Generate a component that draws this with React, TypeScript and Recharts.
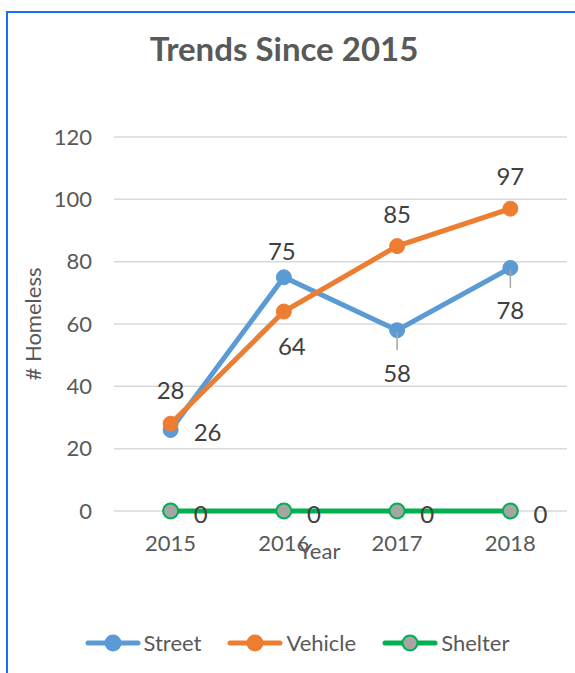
import React from 'react';
import { LineChart, Line, XAxis, YAxis, CartesianGrid, LabelList } from 'recharts';

const years = ['2015', '2016', '2017', '2018'];
const streetValues = [26, 75, 58, 78];
const vehicleValues = [28, 64, 85, 97];
const shelterValues = [0, 0, 0, 0];
const yTicks = [0, 20, 40, 60, 80, 100, 120];

const titleText = 'Trends Since 2015';
const xTitle = 'Year';
const yTitle = '# Homeless';

const FONT = 'Lato, "Open Sans", sans-serif';
const AXIS_COLOR = '#595959';
const LABEL_COLOR = '#404040';

// label placement per point: [dx, dy, leader, anchor]
const streetLabelPlacement: [number, number, boolean, string][] = [
  [23, 2, false, 'start'],
  [-2, -27, false, 'middle'],
  [0, 42, true, 'middle'],
  [0, 42, true, 'middle'],
];
const vehicleLabelPlacement: [number, number, boolean, string][] = [
  [0, -34, false, 'middle'],
  [8, 34, false, 'middle'],
  [0, -33, false, 'middle'],
  [0, -33, false, 'middle'],
];
const shelterLabelPlacement: [number, number, boolean, string][] = [
  [23, 2, false, 'start'],
  [23, 2, false, 'start'],
  [23, 2, false, 'start'],
  [23, 2, false, 'start'],
];

const series = [
  { key: 'street', name: 'Street', color: '#5B9BD5', dotFill: '#5B9BD5', placement: streetLabelPlacement },
  { key: 'vehicle', name: 'Vehicle', color: '#ED7D31', dotFill: '#ED7D31', placement: vehicleLabelPlacement },
  { key: 'shelter', name: 'Shelter', color: '#00B050', dotFill: '#A5A5A5', placement: shelterLabelPlacement },
];

const data = years.map((y, i) => ({
  year: y,
  street: streetValues[i],
  vehicle: vehicleValues[i],
  shelter: shelterValues[i],
}));

const makeLabel = (placement: [number, number, boolean, string][]) => (props: any) => {
  const vb = props.viewBox || {};
  const x = props.x ?? vb.x;
  const y = props.y ?? vb.y;
  const idx = props.index ?? 0;
  const p = placement[idx] || [0, -30, false, 'middle'];
  const [dx, dy, leader, anchor] = p;
  return (
    <g>
      {leader && (
        <line x1={x} y1={y + 2} x2={x} y2={y + 20} stroke="#A6A6A6" strokeWidth={1.5} />
      )}
      <text
        x={x + dx}
        y={y + dy}
        textAnchor={anchor as any}
        dominantBaseline="central"
        fontSize={24}
        fontFamily={FONT}
        fill={LABEL_COLOR}
      >
        {props.value}
      </text>
    </g>
  );
};

const LegendIcon = ({ color, dotFill }: { color: string; dotFill: string }) => (
  <svg width={56} height={20} style={{ display: 'block' }}>
    <line x1={3} y1={10} x2={53} y2={10} stroke={color} strokeWidth={5} strokeLinecap="round" />
    <circle cx={28} cy={10} r={7.5} fill={dotFill} stroke={color} strokeWidth={2} />
  </svg>
);

export default function App() {
  return (
    <div style={{ position: 'absolute', left: 0, top: 0, width: 575, height: 673, background: '#fff', overflow: 'hidden' }}>
      <svg width={575} height={673} style={{ position: 'absolute', left: 0, top: 0 }}>
        <line x1={7} y1={12} x2={575} y2={12} stroke="#1A6DF5" strokeWidth={2} />
        <line x1={7} y1={11} x2={7} y2={673} stroke="#1A6DF5" strokeWidth={2} />
        <text x={284} y={61} textAnchor="middle" fontSize={33} fontWeight="bold" fontFamily={FONT} fill={AXIS_COLOR}>
          {titleText}
        </text>
      </svg>
      <div style={{ position: 'absolute', left: 0, top: 0 }}>
        <LineChart width={575} height={673} data={data} margin={{ top: 137, right: 8, bottom: 0, left: 0 }}>
          <CartesianGrid vertical={false} stroke="#D9D9D9" strokeWidth={1.5} />
          <XAxis
            dataKey="year"
            scale="band"
            height={162}
            axisLine={false}
            tickLine={false}
            tickMargin={18}
            tick={{ fontSize: 22, fontFamily: FONT, fill: AXIS_COLOR }}
            label={{
              content: (p: any) => {
                const vb = p.viewBox;
                return (
                  <text x={vb.x + vb.width / 2 - 21} y={vb.y + 48} textAnchor="middle" fontSize={22} fontFamily={FONT} fill={AXIS_COLOR}>
                    {xTitle}
                  </text>
                );
              },
            }}
          />
          <YAxis
            width={114}
            domain={[0, 120]}
            ticks={yTicks}
            axisLine={false}
            tickLine={false}
            tickMargin={16}
            tick={{ fontSize: 22, fontFamily: FONT, fill: AXIS_COLOR }}
            label={{
              content: (p: any) => {
                const vb = p.viewBox;
                const cx = 41;
                const cy = vb.y + vb.height / 2;
                return (
                  <text x={cx} y={cy} transform={`rotate(-90, ${cx}, ${cy})`} textAnchor="middle" fontSize={22} fontFamily={FONT} fill={AXIS_COLOR}>
                    {yTitle}
                  </text>
                );
              },
            }}
          />
          {series.map((s) => (
            <Line
              key={s.key}
              dataKey={s.key}
              name={s.name}
              stroke={s.color}
              strokeWidth={5}
              isAnimationActive={false}
              dot={{ r: 7.5, fill: s.dotFill, stroke: s.color, strokeWidth: s.key === 'shelter' ? 2 : 1 }}
              activeDot={false}
            >
              <LabelList dataKey={s.key} content={makeLabel(s.placement)} />
            </Line>
          ))}
        </LineChart>
      </div>
      <div
        style={{
          position: 'absolute',
          left: 0,
          top: 633,
          width: 594,
          display: 'flex',
          justifyContent: 'center',
          alignItems: 'center',
          gap: 26,
          fontFamily: FONT,
          fontSize: 22,
          color: AXIS_COLOR,
          lineHeight: '20px',
        }}
      >
        {series.map((s) => (
          <div key={s.key} style={{ display: 'flex', alignItems: 'center' }}>
            <LegendIcon color={s.color} dotFill={s.dotFill} />
            <span style={{ marginLeft: 3 }}>{s.name}</span>
          </div>
        ))}
      </div>
    </div>
  );
}
